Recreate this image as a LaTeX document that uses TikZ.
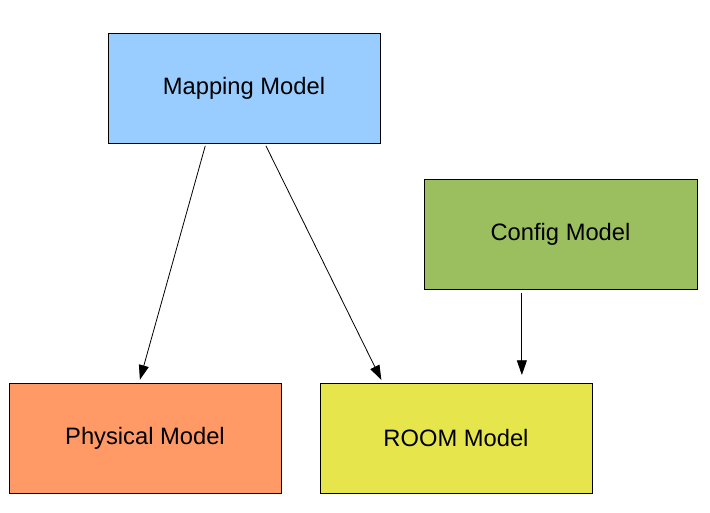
\documentclass[tikz,border=0pt]{standalone}
\usepackage{fontspec}
\setmainfont{Liberation Sans}
\usetikzlibrary{calc,arrows.meta}
\definecolor{mapblue}{HTML}{99CCFF}
\definecolor{cfggreen}{HTML}{9BBF5F}
\definecolor{physorange}{HTML}{FF9966}
\definecolor{roomyellow}{HTML}{E6E64C}
\begin{document}
\begin{tikzpicture}[x=0.75pt,y=-0.75pt,
  model/.style={draw=black,line width=0.75pt,minimum width=204pt,minimum height=82.5pt,
    inner sep=0pt,font=\fontsize{17.8}{20}\selectfont},
  conn/.style={line width=0.6pt,-{Triangle[length=11pt,width=7.5pt]}}]
\useasboundingbox (0,0) rectangle (710,513);
\node[model,fill=mapblue] (map) at (244,88.5) {Mapping Model};
\node[model,fill=cfggreen,minimum width=204.75pt] (cfg) at (560.5,234.5) {Config Model};
\node[model,fill=physorange] (phys) at (145,438.5) {Physical Model};
\node[model,fill=roomyellow] (room) at (456,438.5) {ROOM Model};
\coordinate (cfgout) at ($(cfg.south west)!0.359!(cfg.south east)$);
\draw[conn,shorten <=1.5pt,shorten >=2.5pt] ($(map.south west)!0.36!(map.south east)$) -- ($(phys.north west)!0.478!(phys.north east)$);
\draw[conn,shorten <=1.5pt,shorten >=2.5pt] ($(map.south west)!0.577!(map.south east)$) -- ($(room.north west)!0.232!(room.north east)$);
\draw[conn,shorten <=2pt,shorten >=6pt] (cfgout) -- (cfgout |- room.north);
\end{tikzpicture}
\end{document}
